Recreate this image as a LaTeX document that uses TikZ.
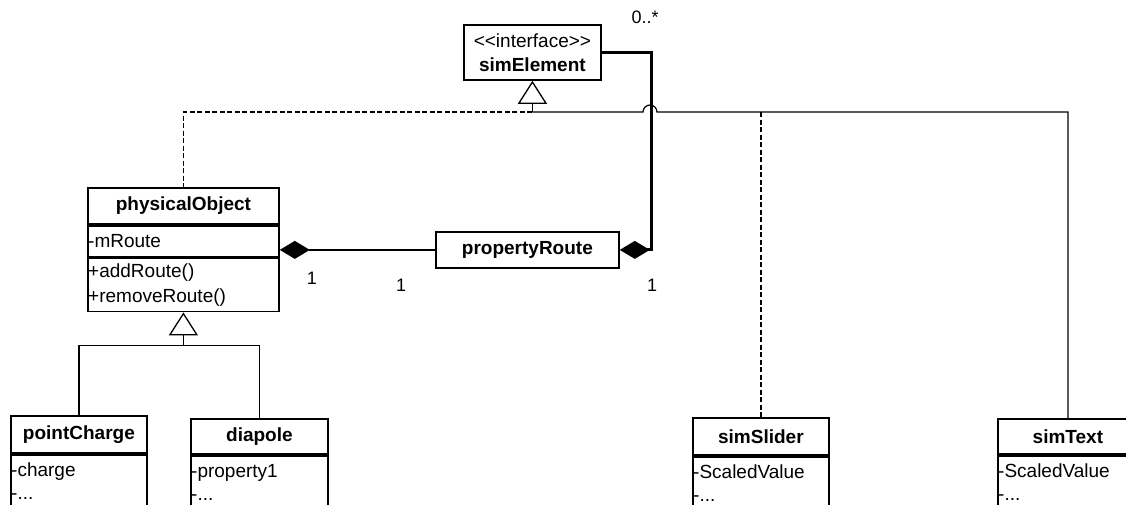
\documentclass[tikz,border=0pt]{standalone}
\usepackage{fontspec}
\setmainfont{Liberation Sans}
\usetikzlibrary{arrows.meta}
\begin{document}
\begin{tikzpicture}[x=1pt,y=-1pt,
  every node/.style={font=\fontsize{19}{24}\selectfont},
  cls/.style={draw, line width=1.8pt, inner sep=0pt, anchor=north west},
  ttl/.style={cls, font=\fontsize{19}{24}\selectfont\bfseries},
  attr/.style={anchor=west, inner sep=1pt, align=left},
  attrtop/.style={anchor=north west, inner sep=1pt, align=left, yshift=-8pt,
    font=\fontsize{19}{23}\selectfont},
  link/.style={line width=1.2pt},
  real/.style={link, dash pattern=on 5pt off 2.5pt},
  gen/.style={link, -{Triangle[open, length=23pt, width=29pt, line width=1.3pt]}},
  comp/.style={{Diamond[length=30pt, width=18pt]}-},
  strong/.style={line width=3pt},
  mult/.style={font=\fontsize{18}{20}\selectfont}
]
\useasboundingbox (0,0) rectangle (1126,504);
\clip (0,0) rectangle (1126,504);

% interface (kerns keep << and >> from turning into guillemets)
\node[cls, minimum width=137pt, minimum height=55pt, align=center] (se) at (463,24)
  {<\kern0pt<interface>\kern0pt>\\\textbf{simElement}};

% physicalObject with its two compartments
\node[ttl, minimum width=191pt, minimum height=36pt] (po) at (87,187) {physicalObject};
\node[cls, minimum width=191pt, minimum height=31pt] (poA) at (po.south west) {};
\node[cls, minimum width=191pt, minimum height=53pt] (poB) at (poA.south west) {};
\node[attr] (poAt) at (poA.west) {-mRoute};
\node[attr, font=\fontsize{19}{25}\selectfont] (poBt) at (poB.west) {+addRoute()\\+removeRoute()};

% propertyRoute
\node[ttl, minimum width=183pt, minimum height=36pt] (pr) at (435,231) {propertyRoute};

% lower classes
\node[ttl, minimum width=136pt, minimum height=37pt] (pc) at (10,415) {pointCharge};
\node[cls, minimum width=136pt, minimum height=80pt] (pcA) at (pc.south west) {};
\node[attrtop] (pcAt) at (pcA.north west) {-charge\\-...};

\node[ttl, minimum width=137pt, minimum height=35pt] (dp) at (190,418) {diapole};
\node[cls, minimum width=137pt, minimum height=80pt] (dpA) at (dp.south west) {};
\node[attrtop] (dpAt) at (dpA.north west) {-property1\\-...};

\node[ttl, minimum width=136pt, minimum height=37pt] (ss) at (692,417) {simSlider};
\node[cls, minimum width=136pt, minimum height=80pt] (ssA) at (ss.south west) {};
\node[attrtop] (ssAt) at (ssA.north west) {-ScaledValue\\-...};

\node[ttl, minimum width=140pt, minimum height=35pt] (st) at (997,418) {simText};
\node[cls, minimum width=140pt, minimum height=80pt] (stA) at (st.south west) {};
\node[attrtop] (stAt) at (stA.north west) {-ScaledValue\\-...};

% junction rail under the interface
\coordinate (rail) at (0,112);
\coordinate (j1) at (se.south |- rail);
\draw[gen] (j1) -- (se.south);
\draw[real] (j1) -- (po.north |- rail) -- (po.north);
\draw[link] (j1) -- (643,112) arc[start angle=180, end angle=0, radius=7pt]
  -- (st.north |- rail) -- (st.north);
\draw[real] (ss.north |- rail) -- (ss.north);

% composition associations
\draw[strong, comp] (pr.east) -- ++(32,0) |- (se.east);
\draw[link, comp] (pr.west -| po.east) -- (pr.west);

% specialisations of physicalObject
\coordinate (j2) at ([yshift=-33pt]poB.south);
\draw[gen] (j2) -- (poB.south);
\draw[link] (pc.north) -- (pc.north |- j2) -- (dp.north |- j2) -- (dp.north);

% multiplicities
\node[mult] (m0) at (645,17) {0..*};
\node[mult] (m1) at (312,278) {1};
\node[mult] (m2) at (401,285) {1};
\node[mult] (m3) at (652,285) {1};
\end{tikzpicture}
\end{document}
